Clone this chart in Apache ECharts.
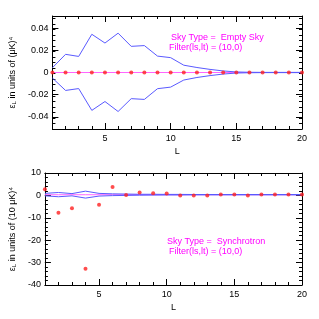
<!DOCTYPE html>
<html><head><meta charset="utf-8">
<script src="https://cdn.jsdelivr.net/npm/echarts@6/dist/echarts.min.js"></script>
<style>html,body{margin:0;padding:0;background:#fff}#c{width:319px;height:319px}</style>
</head><body><div id="c"></div>
<script>
const L = [1,2,3,4,5,6,7,8,9,10,11,12,13,14,15,16,17,18,19,20];
const xTicks = [5,10,15,20];
const topTicks = [-0.04,-0.02,0,0.02,0.04];
const bottomTicks = [-40,-30,-20,-10,0,10];
// Empty Sky
const emptyPoints = [0,0,0,0,0,0,0,0,0,0,0,0,0,0,0,0,0,0,0,0];
const emptyMean = [0,0,0,0,0,0,0,0,0,0,0,0,0,0,0,0,0,0,0,0];
const emptyUpper = [0.0043,0.0164,0.0145,0.0345,0.0266,0.0355,0.0236,0.0243,0.0148,0.0134,0.0066,0.0045,0.0028,0.0014,0.0005,0.0002,0.0001,0.0001,0.0001,0.0001];
const emptyLower = [-0.0050,-0.0162,-0.0145,-0.0342,-0.0262,-0.0352,-0.0236,-0.0243,-0.0146,-0.0132,-0.0068,-0.0045,-0.0028,-0.0014,-0.0005,-0.0002,-0.0001,-0.0001,-0.0001,-0.0001];
// Synchrotron
const synPoints = [2.8,-7.7,-5.7,-32.8,-4.2,3.7,0.2,1.3,1.0,0.8,-0.1,-0.1,-0.1,0.4,0.4,-0.1,0.4,0.4,0.4,0.4];
const synMean = [0.3,0.3,0.3,0.3,0.3,0.3,0.3,0.3,0.3,0.3,0.3,0.3,0.3,0.3,0.3,0.3,0.3,0.3,0.3,0.3];
const synUpper = [0.9,1.3,0.8,1.9,0.9,0.7,0.6,0.5,0.5,0.45,0.45,0.4,0.4,0.4,0.4,0.4,0.4,0.4,0.4,0.4];
const synLower = [-0.2,-0.6,-0.2,-1.2,-0.3,-0.1,0.0,0.1,0.15,0.2,0.2,0.25,0.25,0.25,0.25,0.25,0.25,0.25,0.25,0.25];

const FONT = 'Liberation Sans';
const txt = {fontFamily: FONT, fontSize: 9, color: '#000'};
const pair = (xs, ys) => xs.map((x, i) => [x, ys[i]]);
const tickStyle = {color: '#000', width: 1};

function xAxes(gi) {
  const base = {gridIndex: gi, type: 'value', min: 1, max: 20, splitLine: {show: false}};
  return [
    Object.assign({}, base, {position: 'bottom', name: 'L', nameLocation: 'middle', nameGap: 18,
      nameTextStyle: txt, axisLine: {show: true, onZero: false, lineStyle: {color: '#000', width: 1}},
      axisTick: {show: true, inside: true, length: 6, customValues: xTicks, lineStyle: tickStyle},
      axisLabel: {show: true, customValues: xTicks, ...txt, margin: 5}}),
    Object.assign({}, base, {position: 'bottom', interval: 1,
      axisLine: {show: false, onZero: false}, axisLabel: {show: false},
      axisTick: {show: true, inside: true, length: 3, lineStyle: tickStyle}}),
    Object.assign({}, base, {position: 'top',
      axisLine: {show: true, onZero: false, lineStyle: {color: '#000', width: 1}}, axisLabel: {show: false},
      axisTick: {show: true, inside: true, length: 6, customValues: xTicks, lineStyle: tickStyle}}),
    Object.assign({}, base, {position: 'top', interval: 1,
      axisLine: {show: false, onZero: false}, axisLabel: {show: false},
      axisTick: {show: true, inside: true, length: 3, lineStyle: tickStyle}})
  ];
}

function yAxes(gi, cfg) {
  const base = {gridIndex: gi, type: 'value', min: cfg.min, max: cfg.max, splitLine: {show: false}};
  return [
    Object.assign({}, base, {position: 'left', name: cfg.name, nameLocation: 'middle', nameGap: cfg.gap, nameRotate: 90,
      nameTextStyle: {...txt, rich: {s: {fontFamily: FONT, fontSize: 6, verticalAlign: 'bottom'}}},
      axisLine: {show: true, onZero: false, lineStyle: {color: '#000'}},
      axisTick: {show: true, inside: true, length: 6, customValues: cfg.ticks, lineStyle: tickStyle},
      axisLabel: {show: true, customValues: cfg.ticks, formatter: cfg.fmt, ...txt, margin: 4}}),
    Object.assign({}, base, {position: 'left', interval: cfg.minor,
      axisLine: {show: false, onZero: false}, axisLabel: {show: false},
      axisTick: {show: true, inside: true, length: 3, lineStyle: tickStyle}}),
    Object.assign({}, base, {position: 'right',
      axisLine: {show: true, onZero: false, lineStyle: {color: '#000'}}, axisLabel: {show: false},
      axisTick: {show: true, inside: true, length: 6, customValues: cfg.ticks, lineStyle: tickStyle}}),
    Object.assign({}, base, {position: 'right', interval: cfg.minor,
      axisLine: {show: false, onZero: false}, axisLabel: {show: false},
      axisTick: {show: true, inside: true, length: 3, lineStyle: tickStyle}})
  ];
}

const BLUE = '#5a5aff', MAG = '#ff66ff', RED = '#ff2020';
function seriesFor(xi, yi, pts, mean, up, lo) {
  const line = (d, c, w) => ({type: 'line', xAxisIndex: xi, yAxisIndex: yi, data: pair(L, d), symbol: 'none',
    lineStyle: {color: c, width: w}, silent: true, animation: false, z: 2});
  return [
    line(mean, MAG, 1),
    line(up, BLUE, 1),
    line(lo, BLUE, 1),
    {type: 'scatter', xAxisIndex: xi, yAxisIndex: yi, data: pair(L, pts), symbol: 'circle', symbolSize: 4,
      itemStyle: {color: RED}, animation: false, z: 3}
  ];
}

const chart = echarts.init(document.getElementById('c'), null, {renderer: 'canvas'});
chart.setOption({
  backgroundColor: '#fff',
  animation: false,
  grid: [
    {left: 35, right: 17, top: 16, height: 113},
    {left: 35, right: 17, top: 173, height: 112}
  ],
  xAxis: [...xAxes(0), ...xAxes(1)],
  yAxis: [
    ...yAxes(0, {min: -0.051, max: 0.051, ticks: topTicks, minor: 0.005, gap: 22,
      fmt: v => (Math.abs(v) < 1e-9 ? '0' : String(+v.toFixed(2))),
      name: 'ε{s|L} in units of (μK)⁴'}),
    ...yAxes(1, {min: -40, max: 10, ticks: bottomTicks, minor: 2, gap: 20,
      fmt: v => String(v), name: 'ε{s|L} in units of (10 μK)⁴'})
  ],
  series: [
    ...seriesFor(0, 0, emptyPoints, emptyMean, emptyUpper, emptyLower),
    ...seriesFor(4, 4, synPoints, synMean, synUpper, synLower)
  ],
  graphic: [
    {type: 'text', left: 171, top: 33, style: {text: 'Sky Type =  Empty Sky', fill: '#ff00ff', font: '9px "Liberation Sans"'}},
    {type: 'text', left: 169, top: 43, style: {text: 'Filter(ls,lt) = (10,0)', fill: '#ff00ff', font: '9px "Liberation Sans"'}},
    {type: 'text', left: 167, top: 237, style: {text: 'Sky Type =  Synchrotron', fill: '#ff00ff', font: '9px "Liberation Sans"'}},
    {type: 'text', left: 169, top: 247, style: {text: 'Filter(ls,lt) = (10,0)', fill: '#ff00ff', font: '9px "Liberation Sans"'}}
  ]
});
</script></body></html>
